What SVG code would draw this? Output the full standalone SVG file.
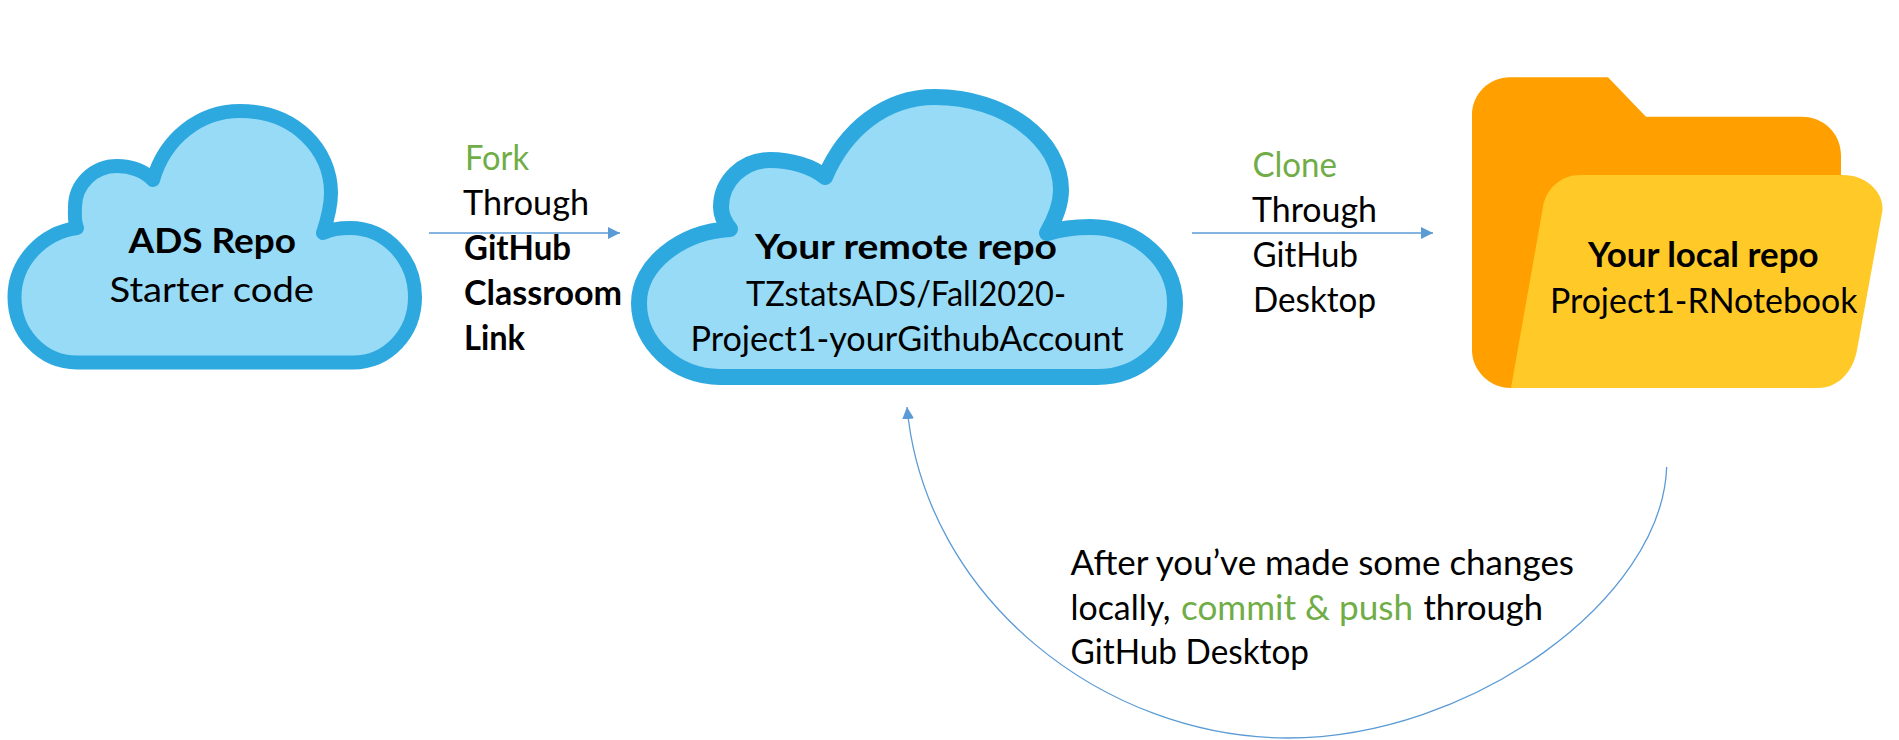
<svg xmlns="http://www.w3.org/2000/svg" width="1899" height="740" viewBox="0 0 1899 740">
<style>
text{font-family:Lato,"Open Sans","Liberation Sans",sans-serif;font-size:35px;fill:#000}
.b{font-weight:700}
.g{fill:#70AD47}
.cloud{fill:#98DBF7;stroke:#2EA9E0;stroke-linejoin:round}
.conn{fill:none;stroke:#5B9BD5;stroke-width:1.3}
</style>
<defs>
<marker id="ah" markerUnits="userSpaceOnUse" markerWidth="12" markerHeight="14" refX="12" refY="7" orient="auto"><path d="M0 1L12 7L0 13Z" fill="#5B9BD5"/></marker>
</defs>
<rect width="1899" height="740" fill="#fff"/>
<g id="ads-repo">
<path class="cloud" stroke-width="14" d="M77 362.500C42 362.500 14.500 333 14.500 297C14.500 262 42 233 77 228C74 221 75 214 75 207C75 184 94 166 117 166C131 166 145 171 153 180C165 138 200 111 240 111C295 111 331 150 331 193C331 208 327 221 323 233C331 229 340 228 350 228C387 228 415 260 415 297C415 333 388 362.500 353 362.500Z"/>
<text class="b" x="128.500" y="252.500" textLength="167.500" lengthAdjust="spacingAndGlyphs">ADS Repo</text>
<text x="109.500" y="302" textLength="204.500" lengthAdjust="spacingAndGlyphs">Starter code</text>
</g>
<g id="remote-repo">
<path class="cloud" stroke-width="16" d="M720 377C676 377 639 343 639 303C639 265 680 232 730 229C724 222 721 215 721 207C721 181 743 160 770 160C790 160 812 166 825 177C845 130 885 97 935 97C1005 97 1061 140 1061 190C1061 207 1054 221 1047 233C1060 229 1075 227 1090 227C1138 227 1175 262 1175 303C1175 345 1140 377 1097 377Z"/>
<text class="b" x="755" y="259" textLength="302" lengthAdjust="spacingAndGlyphs">Your remote repo</text>
<text x="746" y="305.500" textLength="320" lengthAdjust="spacingAndGlyphs">TZstatsADS/Fall2020-</text>
<text x="690.500" y="350.500" textLength="433" lengthAdjust="spacingAndGlyphs">Project1-yourGithubAccount</text>
</g>
<g id="local-repo">
<path fill="#FFA000" d="M1510 77.300H1608L1646 116.700H1802C1824 116.700 1841 134 1841 155V200L1600 388H1511C1489 388 1472 370 1472 350V115C1472 94 1489 77.300 1510 77.300Z"/>
<path fill="#FFCA28" d="M1580 175H1843C1868 175 1886 195 1882 213L1857 350C1853 372 1838 388 1818 388H1511L1543 207C1546 188 1562 175 1580 175Z"/>
<text class="b" x="1588" y="267.300" textLength="230.500" lengthAdjust="spacingAndGlyphs">Your local repo</text>
<text x="1550" y="313" textLength="307.500" lengthAdjust="spacingAndGlyphs">Project1-RNotebook</text>
</g>
<g id="connectors">
<path class="conn" d="M429 233H620" marker-end="url(#ah)"/>
<path class="conn" d="M1192 233H1433" marker-end="url(#ah)"/>
<path class="conn" d="M1666.700 467C1662 600 1470 738 1288 738C1105 738 925 600 907 407" marker-end="url(#ah)"/>
</g>
<g id="fork-label">
<text class="g" x="465" y="169.500" textLength="64" lengthAdjust="spacingAndGlyphs">Fork</text>
<text x="463" y="214.500" textLength="126" lengthAdjust="spacingAndGlyphs">Through</text>
<text class="b" x="464" y="259.500" textLength="107" lengthAdjust="spacingAndGlyphs">GitHub</text>
<text class="b" x="464" y="304.500" textLength="158" lengthAdjust="spacingAndGlyphs">Classroom</text>
<text class="b" x="464" y="349.500" textLength="61" lengthAdjust="spacingAndGlyphs">Link</text>
</g>
<g id="clone-label">
<text class="g" x="1252.500" y="176.500" textLength="84.500" lengthAdjust="spacingAndGlyphs">Clone</text>
<text x="1252" y="221.500" textLength="125" lengthAdjust="spacingAndGlyphs">Through</text>
<text x="1252.500" y="266.500" textLength="105.500" lengthAdjust="spacingAndGlyphs">GitHub</text>
<text x="1253" y="311.500" textLength="123" lengthAdjust="spacingAndGlyphs">Desktop</text>
</g>
<g id="push-label">
<text x="1070.500" y="574.500" textLength="503.500" lengthAdjust="spacingAndGlyphs">After you’ve made some changes</text>
<text x="1070.500" y="619.500" textLength="100" lengthAdjust="spacingAndGlyphs">locally,</text>
<text class="g" x="1181" y="619.500" textLength="232" lengthAdjust="spacingAndGlyphs">commit &amp; push</text>
<text x="1423.500" y="619.500" textLength="119.500" lengthAdjust="spacingAndGlyphs">through</text>
<text x="1070.500" y="664" textLength="238.500" lengthAdjust="spacingAndGlyphs">GitHub Desktop</text>
</g>
</svg>
